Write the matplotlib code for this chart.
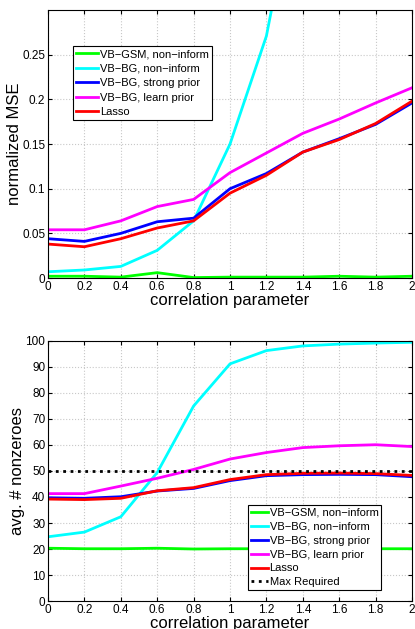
import matplotlib
matplotlib.use("Agg")
import matplotlib.pyplot as plt
import numpy as np

plt.rcParams["font.family"] = ["Liberation Sans", "DejaVu Sans"]

corr = [0, 0.2, 0.4, 0.6, 0.8, 1.0, 1.2, 1.4, 1.6, 1.8, 2.0]
xticks = [0, 0.2, 0.4, 0.6, 0.8, 1, 1.2, 1.4, 1.6, 1.8, 2]
xticklabels = ["0", "0.2", "0.4", "0.6", "0.8", "1", "1.2", "1.4", "1.6", "1.8", "2"]

labels = ["VB\u2212GSM, non\u2212inform", "VB\u2212BG, non\u2212inform",
          "VB\u2212BG, strong prior", "VB\u2212BG, learn prior", "Lasso"]
colors = ["#00ff00", "#00ffff", "#0000ff", "#ff00ff", "#ff0000"]

# normalized MSE
mse_gsm = [0.002, 0.002, 0.001, 0.006, 0.0005, 0.001, 0.001, 0.001, 0.002, 0.001, 0.002]
mse_bg = [0.007, 0.009, 0.013, 0.031, 0.064, 0.150, 0.271, 0.48, 0.62, 0.72, 0.80]
mse_strong = [0.044, 0.041, 0.050, 0.063, 0.067, 0.100, 0.117, 0.141, 0.156, 0.172, 0.196]
mse_learn = [0.054, 0.054, 0.064, 0.080, 0.088, 0.118, 0.140, 0.162, 0.178, 0.196, 0.213]
mse_lasso = [0.038, 0.035, 0.044, 0.056, 0.064, 0.095, 0.115, 0.141, 0.155, 0.173, 0.198]

# avg. number of nonzeroes
nz_gsm = [20.3, 20.1, 20.1, 20.3, 20.0, 20.1, 20.1, 20.1, 20.1, 20.1, 20.1]
nz_bg = [24.7, 26.5, 32.4, 49.4, 75.0, 91.2, 96.3, 98.1, 98.8, 99.2, 99.5]
nz_strong = [39.7, 39.5, 40.1, 42.3, 43.3, 46.3, 48.2, 48.6, 48.7, 48.6, 47.8]
nz_learn = [41.3, 41.3, 44.2, 47.2, 50.6, 54.6, 57.1, 59.0, 59.7, 60.1, 59.4]
nz_lasso = [39.2, 39.0, 39.5, 42.4, 43.6, 46.7, 48.6, 49.1, 49.2, 49.0, 48.3]
max_required = 50

fig = plt.figure(figsize=(4.15, 6.29), dpi=100)
ax1 = fig.add_axes([0.1157, 0.558, 0.8771, 0.426])
ax2 = fig.add_axes([0.1157, 0.0445, 0.8771, 0.4134])


def style(ax):
    ax.set_xlim(0, 2)
    ax.set_xticks(xticks)
    ax.set_xticklabels(xticklabels)
    ax.grid(True, color="#c8c8c8", linestyle=":", linewidth=0.8)
    ax.tick_params(direction="in", labelsize=8.5, length=3, top=True, right=True, pad=2)
    for sp in ax.spines.values():
        sp.set_linewidth(0.8)
    ax.set_xlabel("correlation parameter", fontsize=12, labelpad=0)


for ys, c, lab in zip([mse_gsm, mse_bg, mse_strong, mse_learn, mse_lasso], colors, labels):
    ax1.plot(corr, ys, color=c, lw=2, label=lab)
style(ax1)
ax1.set_ylim(0, 0.3)
ax1.set_yticks([0, 0.05, 0.1, 0.15, 0.2, 0.25])
ax1.set_yticklabels(["0", "0.05", "0.1", "0.15", "0.2", "0.25"])
ax1.set_ylabel("normalized MSE", fontsize=12, labelpad=0)
leg1 = ax1.legend(loc="upper left", bbox_to_anchor=(0.069, 0.866), fontsize=8,
                  frameon=True, fancybox=False, edgecolor="black", framealpha=1,
                  handlelength=1.9, handletextpad=0.2, borderpad=0.3, labelspacing=0.4,
                  borderaxespad=0)
leg1.get_frame().set_linewidth(0.8)

for ys, c, lab in zip([nz_gsm, nz_bg, nz_strong, nz_learn, nz_lasso], colors, labels):
    ax2.plot(corr, ys, color=c, lw=2, label=lab)
ax2.plot(corr, [max_required] * len(corr), color="black", lw=2, linestyle=":",
         label="Max Required")
style(ax2)
ax2.set_ylim(0, 100)
ax2.set_yticks(np.arange(0, 101, 10))
ax2.set_ylabel("avg. # nonzeroes", fontsize=12, labelpad=0)
leg2 = ax2.legend(loc="lower left", bbox_to_anchor=(0.549, 0.042), fontsize=8,
                  frameon=True, fancybox=False, edgecolor="black", framealpha=1,
                  handlelength=1.6, handletextpad=0.1, borderpad=0.25, labelspacing=0.35,
                  borderaxespad=0)
leg2.get_frame().set_linewidth(0.8)

fig.savefig("out.png", dpi=100)
